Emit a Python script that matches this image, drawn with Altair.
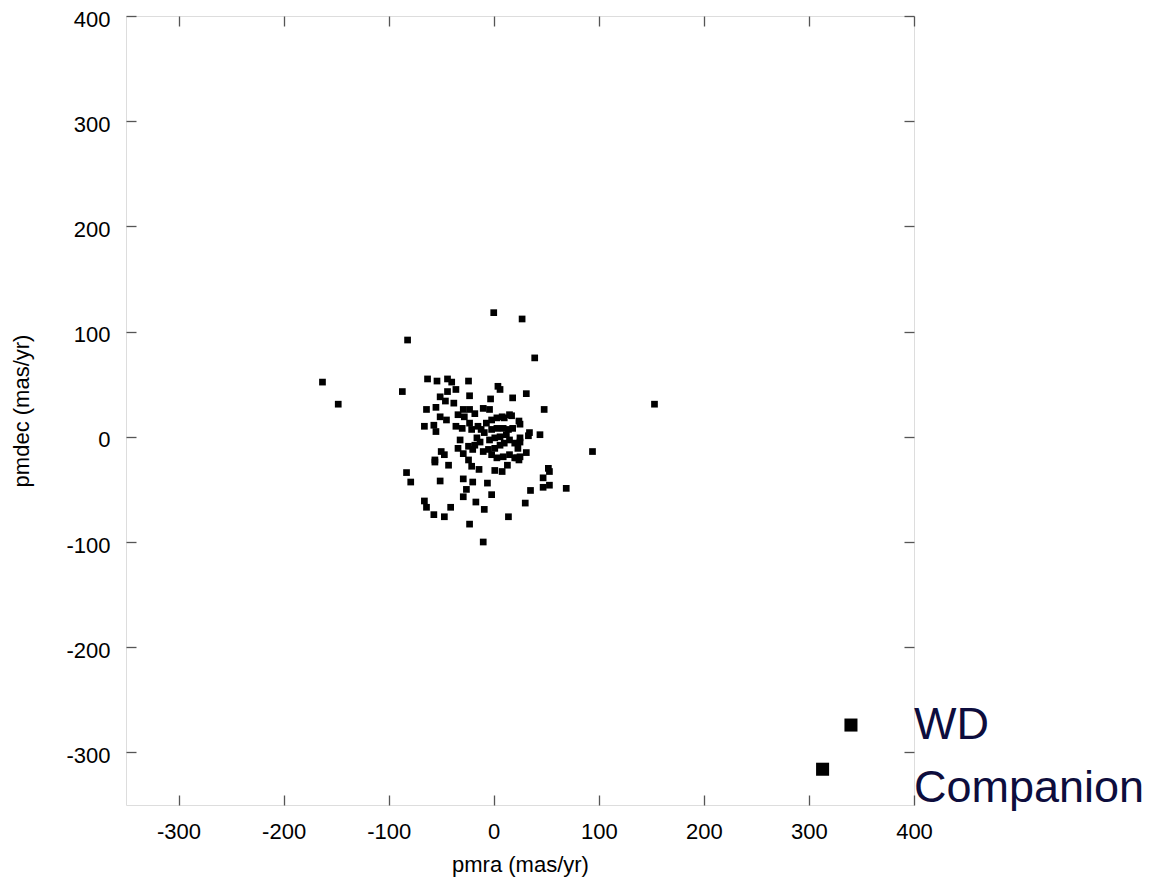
import altair as alt
import pandas as pd

# proper motion of field stars (mas/yr)
pmra = [0, -82, -163, -148, -87, 27, 39, 153, 94, 69, -10,
        -63, -54, -44, -40, -24, -36, -44, -51, -23, -46, -38, -55, -64, -3, 4, 6,
        18, 31, 48, -10, -4, 10, 17, 24, 25, 34, 44, 25, 33,
        -66, -57, -55, -51, -45, -36, -29, -23, -34, -28, -18, 3, 8, 15, -2, -7,
        -30, -23, -21, -15, -12, -9, -2, 3, 9, 14, 18, 12, 6, 1, -4, -16, -13, -18,
        -32, -34, -29, -24, -20, -10, -5, 1, 6, 10, 15, 20, 25, 23, 15, 20, 25,
        -2, 3, 9, -50, -56, -47, -24, -21, -14, 1, 8, 13, 22, 24, 31, 52,
        -83, -79, -56, -43, -51, -29, -20, -6, -26, -29, -2, -17, -66, -64, -57,
        -47, -41, -9, -23, 14, 30, 35, 47, 53, 47, 53]
pmdec = [118, 92, 52, 31, 43, 112, 75, 31, -14, -49, -100,
         55, 53, 55, 52, 53, 45, 43, 38, 39, 34, 32, 28, 26, 36, 48, 45,
         37, 41, 26, 27, 26, 18, 20, 15, 12, 4, 2, -5, 1,
         10, 11, 5, 19, 16, 10, 26, 26, 21, 19, 22, 18, 19, 21, 16, 13,
         8, 13, 7, 10, 7, 4, 7, 8, 8, 7, 8, 2, 0, -1, -3, -1, -5, -8,
         -3, -11, -16, -9, -12, -14, -12, -11, -8, -6, -3, -6, -1, -11, -17, -20, -19,
         -17, -20, -19, -14, -22, -17, -22, -28, -31, -32, -33, -27, -20, -22, -15, -30,
         -34, -43, -24, -27, -42, -40, -43, -44, -50, -57, -55, -62, -61, -67, -74,
         -76, -67, -69, -83, -76, -63, -51, -39, -33, -48, -46]

# white dwarf and its companion
wd_pmra = [340, 313]
wd_pmdec = [-274, -316]

# annotation text anchored in data coordinates
label_text = ["WD", "Companion"]
label_pmra = [400, 400]
label_pmdec = [-287, -347]

ticks = [-300, -200, -100, 0, 100, 200, 300, 400]

stars = pd.DataFrame({"pmra": pmra, "pmdec": pmdec})
wd = pd.DataFrame({"pmra": wd_pmra, "pmdec": wd_pmdec})
labels = pd.DataFrame({"text": label_text, "pmra": label_pmra, "pmdec": label_pmdec})

xs = alt.Scale(domain=[-350, 400], nice=False, zero=False)
ys = alt.Scale(domain=[-350, 400], nice=False, zero=False)

FONT = "Liberation Sans"
GRAY = "#555555"

common_axis = dict(values=ticks, domain=False, grid=False, tickSize=10, offset=-10,
                   tickColor=GRAY, tickWidth=1.3, labelFont=FONT, labelFontSize=22,
                   labelColor="#000000", titleFont=FONT, titleFontSize=22,
                   titleFontWeight="normal", titleColor="#000000", labelFlush=False,
                   labelOverlap=False, labelExpr="'' + datum.value")

x_main = alt.X("pmra:Q", scale=xs, title="pmra (mas/yr)",
               axis=alt.Axis(orient="bottom", labelPadding=16, titlePadding=12, **common_axis))
y_main = alt.Y("pmdec:Q", scale=ys, title="pmdec (mas/yr)",
               axis=alt.Axis(orient="left", labelPadding=16, labelOffset=3, titlePadding=32,
                             **common_axis))

pts = alt.Chart(stars).mark_point(shape="square", filled=True, size=45, color="#000000",
                                  opacity=1).encode(x=x_main, y=y_main)

mirror_axis = dict(values=ticks, domain=False, grid=False, tickSize=10, offset=-10,
                   tickColor=GRAY, tickWidth=1.3, labels=False, title=None)

wd_pts = alt.Chart(wd).mark_point(shape="square", filled=True, size=170, color="#000000",
                                  opacity=1).encode(
    x=alt.X("pmra:Q", scale=xs, axis=alt.Axis(orient="top", **mirror_axis)),
    y=alt.Y("pmdec:Q", scale=ys, axis=alt.Axis(orient="right", **mirror_axis)),
)

txt = alt.Chart(labels).mark_text(align="left", baseline="alphabetic", font=FONT,
                                  fontSize=45, color="#0d0d3d").encode(
    x=alt.X("pmra:Q", scale=xs, axis=None),
    y=alt.Y("pmdec:Q", scale=ys, axis=None),
    text="text:N",
)

chart = alt.layer(pts, wd_pts, txt).resolve_axis(x="independent", y="independent").properties(
    width=788, height=789,
    autosize=alt.AutoSizeParams(type="none"),
    padding={"left": 118, "top": 8, "right": 236, "bottom": 74},
).configure_view(stroke=GRAY, strokeWidth=1.5).configure(background="white")

chart.save("out.html", embed_options={"renderer": "svg", "actions": False})
